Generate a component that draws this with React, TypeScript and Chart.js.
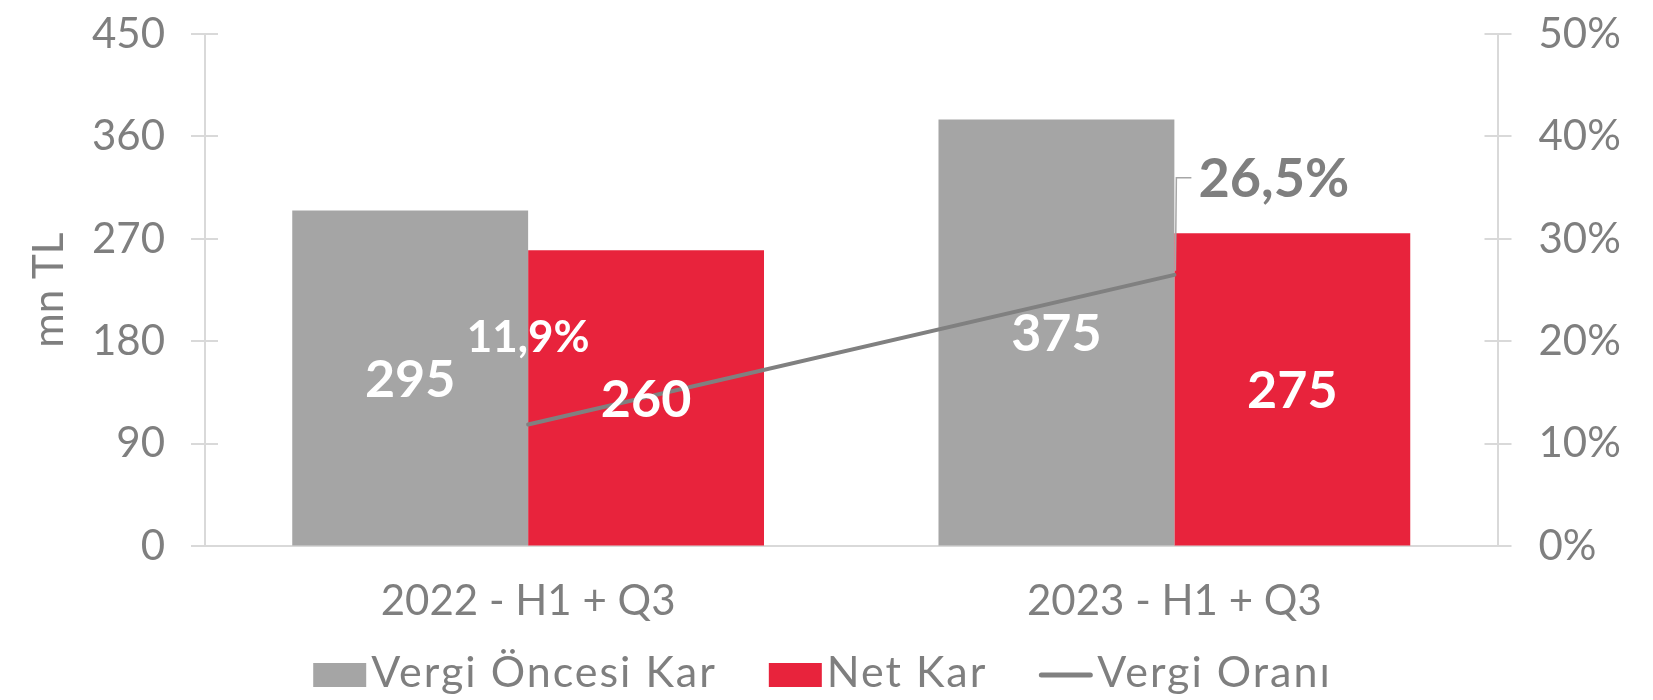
import React, { useEffect, useRef } from "react";
import { Chart, registerables } from "chart.js";

Chart.register(...registerables);

const categories = ["2022 - H1 + Q3", "2023 - H1 + Q3"];
const vergiOncesiKar = [295, 375];
const netKar = [260, 275];
const vergiOrani = [11.9, 26.5];
const leftTickValues = [0, 90, 180, 270, 360, 450];
const rightTickValues = [0, 10, 20, 30, 40, 50];
const seriesNames = ["Vergi Öncesi Kar", "Net Kar", "Vergi Oranı"];

const GREY = "#a5a5a5";
const RED = "#e8233c";
const LINE = "#808080";
const TEXT = "#7f7f7f";
const AXIS = "#d9d9d9";
const FONT = "Lato, 'Noto Sans', sans-serif";

const fmtPct = (v: number) => v.toFixed(1).replace(".", ",") + "%";

const innerTicksPlugin = {
  id: "innerTicks",
  afterDraw(chart: any) {
    const ctx = chart.ctx;
    const { y, y1 } = chart.scales;
    ctx.save();
    ctx.strokeStyle = AXIS;
    ctx.lineWidth = 2;
    const area = chart.chartArea;
    y.ticks.forEach((t: any) => {
      const py = Math.round(y.getPixelForValue(t.value));
      ctx.beginPath();
      ctx.moveTo(area.left, py);
      ctx.lineTo(area.left + 13, py);
      ctx.stroke();
    });
    y1.ticks.forEach((t: any) => {
      const py = Math.round(y1.getPixelForValue(t.value));
      ctx.beginPath();
      ctx.moveTo(area.right - 13, py);
      ctx.lineTo(area.right, py);
      ctx.stroke();
    });
    ctx.restore();
  },
};

const labelsPlugin = {
  id: "valueLabels",
  afterDatasetsDraw(chart: any) {
    const ctx = chart.ctx;
    ctx.save();
    [0, 1].forEach((di) => {
      const meta = chart.getDatasetMeta(di);
      const data = chart.data.datasets[di].data as number[];
      meta.data.forEach((el: any, i: number) => {
        ctx.font = `bold 52px ${FONT}`;
        ctx.fillStyle = "#ffffff";
        ctx.textAlign = "center";
        ctx.textBaseline = "middle";
        ctx.fillText(String(data[i]), el.x, (el.y + el.base) / 2 + 2);
      });
    });
    const lm = chart.getDatasetMeta(2);
    const ld = chart.data.datasets[2].data as number[];
    const p0 = lm.data[0];
    ctx.font = `bold 44px ${FONT}`;
    ctx.fillStyle = "#ffffff";
    ctx.textAlign = "center";
    ctx.textBaseline = "middle";
    ctx.fillText(fmtPct(ld[0]), p0.x, p0.y - 87);

    const p1 = lm.data[1];
    ctx.strokeStyle = "#a6a6a6";
    ctx.lineWidth = 1.5;
    ctx.beginPath();
    ctx.moveTo(p1.x + 1, p1.y - 4);
    ctx.lineTo(p1.x + 2, p1.y - 97);
    ctx.lineTo(p1.x + 17, p1.y - 97);
    ctx.stroke();
    ctx.font = `bold 54px ${FONT}`;
    ctx.fillStyle = TEXT;
    ctx.textAlign = "left";
    ctx.textBaseline = "middle";
    ctx.fillText(fmtPct(ld[1]), p1.x + 24, p1.y - 95);
    ctx.restore();
  },
};

const legendPlugin = {
  id: "customLegend",
  afterDraw(chart: any) {
    const ctx = chart.ctx;
    ctx.save();
    ctx.font = `43px ${FONT}`;
    (ctx as any).letterSpacing = "2px";
    const boxW = 53;
    const gap = 5;
    const itemGap = 52;
    const items = chart.data.datasets.map((ds: any, i: number) => ({
      text: seriesNames[i],
      color: i === 2 ? LINE : ds.backgroundColor,
      isLine: i === 2,
      w: boxW + gap + ctx.measureText(seriesNames[i]).width,
    }));
    const total = items.reduce((s: number, it: any) => s + it.w, 0) + itemGap * (items.length - 1);
    let x = chart.width / 2 - 4 - total / 2;
    const baseline = 687;
    items.forEach((it: any) => {
      if (it.isLine) {
        ctx.strokeStyle = it.color;
        ctx.lineWidth = 5;
        ctx.lineCap = "round";
        ctx.beginPath();
        ctx.moveTo(x + 2, baseline - 12);
        ctx.lineTo(x + boxW - 2, baseline - 12);
        ctx.stroke();
      } else {
        ctx.fillStyle = it.color;
        ctx.fillRect(x, baseline - 24, boxW, 24);
      }
      ctx.fillStyle = TEXT;
      ctx.textAlign = "left";
      ctx.textBaseline = "alphabetic";
      ctx.fillText(it.text, x + boxW + gap, baseline);
      x += it.w + itemGap;
    });
    ctx.restore();
  },
};

const noVPad = (s: any, w: number) => {
  s.width = w;
  s.paddingTop = 0;
  s.paddingBottom = 0;
};

export default function App() {
  const ref = useRef<HTMLCanvasElement | null>(null);
  useEffect(() => {
    document.body.style.margin = "0";
    if (!ref.current) return;
    Chart.defaults.font.family = FONT;
    const chart = new Chart(ref.current, {
      type: "bar",
      data: {
        labels: categories,
        datasets: [
          {
            type: "bar",
            label: seriesNames[0],
            data: vergiOncesiKar,
            backgroundColor: GREY,
            yAxisID: "y",
            order: 1,
            categoryPercentage: 0.73,
            barPercentage: 1,
          },
          {
            type: "bar",
            label: seriesNames[1],
            data: netKar,
            backgroundColor: RED,
            yAxisID: "y",
            order: 1,
            categoryPercentage: 0.73,
            barPercentage: 1,
          },
          {
            type: "line",
            label: seriesNames[2],
            data: vergiOrani,
            borderColor: LINE,
            backgroundColor: LINE,
            borderWidth: 4,
            borderCapStyle: "round",
            pointRadius: 0,
            tension: 0,
            yAxisID: "y1",
            order: 0,
          } as any,
        ],
      },
      options: {
        responsive: false,
        animation: false,
        layout: { padding: { top: 34, bottom: 73.6, left: 0, right: 0 } },
        plugins: {
          legend: { display: false },
          tooltip: { enabled: false },
          title: { display: false },
        },
        scales: {
          x: {
            grid: { display: false, drawTicks: false },
            border: { display: true, color: AXIS, width: 2 },
            ticks: { color: TEXT, font: { size: 42 }, padding: 30 },
            afterFit: (s: any) => {
              s.height = 80;
            },
          },
          y: {
            position: "left",
            min: 0,
            max: 450,
            afterBuildTicks: (s: any) => {
              s.ticks = leftTickValues.map((v) => ({ value: v }));
            },
            grid: { drawOnChartArea: false, drawTicks: true, tickLength: 14, color: AXIS, lineWidth: 2 },
            border: { display: true, color: AXIS, width: 2 },
            ticks: { color: TEXT, font: { size: 42 }, padding: 26 },
            title: {
              display: true,
              text: "mn TL",
              color: TEXT,
              font: { size: 42 },
              padding: { top: 24, bottom: 0 },
            },
            afterFit: (s: any) => noVPad(s, 205),
          },
          y1: {
            position: "right",
            min: 0,
            max: 50,
            afterBuildTicks: (s: any) => {
              s.ticks = rightTickValues.map((v) => ({ value: v }));
            },
            grid: { drawOnChartArea: false, drawTicks: true, tickLength: 14, color: AXIS, lineWidth: 2 },
            border: { display: true, color: AXIS, width: 2 },
            ticks: {
              color: TEXT,
              font: { size: 42 },
              padding: 27,
              callback: (v: any) => `${v}%`,
            },
            afterFit: (s: any) => noVPad(s, 155.5),
          },
        },
      },
      plugins: [innerTicksPlugin, labelsPlugin, legendPlugin],
    });
    return () => chart.destroy();
  }, []);
  return (
    <div style={{ width: 1653, height: 700 }}>
      <canvas ref={ref} width={1653} height={700} style={{ display: "block" }} />
    </div>
  );
}
